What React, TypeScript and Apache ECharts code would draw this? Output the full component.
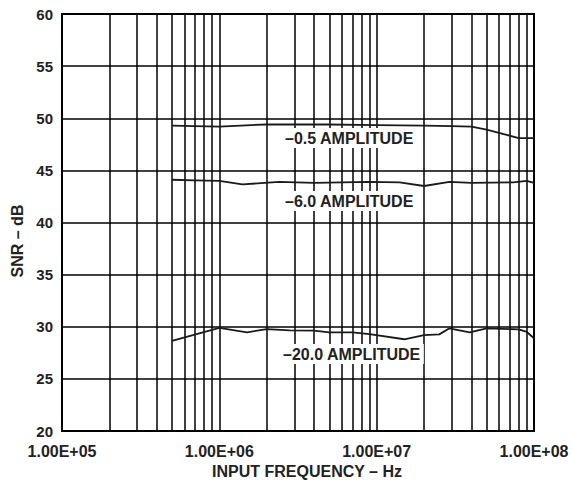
import React, { useEffect, useRef } from "react";
import * as echarts from "echarts";

// -0.5 amplitude
const freqA05 = [5e5, 7e5, 1e6, 1.6e6, 2e6, 3e6, 5e6, 1e7, 2e7, 3e7, 4e7, 5e7, 6.7e7, 8e7, 1e8];
const snrA05 = [49.3, 49.25, 49.2, 49.35, 49.4, 49.4, 49.4, 49.35, 49.3, 49.25, 49.2, 48.9, 48.4, 48.1, 48.1];

// -6.0 amplitude
const freqA6 = [5e5, 7e5, 1e6, 1.4e6, 2.4e6, 4e6, 9e6, 1.4e7, 2e7, 2.9e7, 4e7, 7.4e7, 9e7, 1e8];
const snrA6 = [44.1, 44.05, 44.0, 43.65, 43.9, 43.8, 43.9, 43.85, 43.5, 43.9, 43.8, 43.85, 44.0, 43.8];

// -20.0 amplitude
const freqA20 = [5e5, 1e6, 1.5e6, 2e6, 2.8e6, 4e6, 5e6, 7e6, 9e6, 1.5e7, 2e7, 2.5e7, 2.9e7, 3.9e7, 5e7, 8e7, 9e7, 1e8];
const snrA20 = [28.65, 29.9, 29.47, 29.78, 29.66, 29.62, 29.47, 29.47, 29.3, 28.8, 29.2, 29.27, 29.85, 29.47, 29.85, 29.75, 29.5, 28.9];

const seriesNames = ["–0.5 AMPLITUDE", "–6.0 AMPLITUDE", "–20.0 AMPLITUDE"];
const xTickLabels = ["1.00E+05", "1.00E+06", "1.00E+07", "1.00E+08"];
const minorGridFreqs = [
  2e5, 3e5, 4e5, 5e5, 6e5, 7e5, 8e5, 9e5,
  2e6, 3e6, 4e6, 5e6, 6e6, 7e6, 8e6, 9e6,
  2e7, 3e7, 4e7, 5e7, 6e7, 7e7, 8e7, 9e7,
];

const FONT = '"Liberation Sans", Arial, Helvetica, sans-serif';

export default function App() {
  const ref = useRef<HTMLDivElement>(null);

  useEffect(() => {
    document.body.style.margin = "0";
    if (!ref.current) return;
    const chart = echarts.init(ref.current, null, { renderer: "svg" });
    const pair = (xs: number[], ys: number[]) => xs.map((x, i) => [x, ys[i]]);
    const lineStyle = { color: "#1a1a1a", width: 1.8 };

    const labelStyle = (text: string, x: number, y: number) => ({
      type: "text",
      x,
      y,
      z: 100,
      style: {
        text,
        font: `bold 16px ${FONT}`,
        fill: "#222",
        backgroundColor: "#fff",
        padding: [2, 3, 2, 3],
        textAlign: "left",
        textVerticalAlign: "middle",
      },
    });

    chart.setOption({
      animation: false,
      backgroundColor: "#fff",
      grid: {
        left: 62,
        right: 38,
        top: 14,
        bottom: 52,
        show: true,
        borderColor: "#000",
        borderWidth: 2,
        backgroundColor: "transparent",
      },
      xAxis: {
        type: "log",
        logBase: 10,
        min: 1e5,
        max: 1e8,
        axisLine: { show: true, lineStyle: { color: "#000", width: 2 } },
        axisTick: { show: false },
        splitLine: { show: true, lineStyle: { color: "#000", width: 1.5 } },
        axisLabel: {
          margin: 12,
          fontFamily: FONT,
          fontWeight: "bold",
          fontSize: 16,
          color: "#222",
          formatter: (v: number) => xTickLabels[Math.round(Math.log10(v)) - 5] ?? "",
        },
      },
      yAxis: {
        type: "value",
        min: 20,
        max: 60,
        interval: 5,
        axisLine: { show: true, lineStyle: { color: "#000", width: 2 } },
        axisTick: { show: false },
        splitLine: { show: true, lineStyle: { color: "#000", width: 1.5 } },
        axisLabel: {
          margin: 9,
          fontFamily: FONT,
          fontWeight: "bold",
          fontSize: 15,
          color: "#222",
        },
      },
      graphic: [
        {
          type: "text",
          x: 17,
          y: 241,
          rotation: Math.PI / 2,
          style: {
            text: "SNR – dB",
            font: `bold 16px ${FONT}`,
            fill: "#222",
            textAlign: "center",
            textVerticalAlign: "middle",
          },
        },
        {
          type: "text",
          x: 307,
          y: 471,
          style: {
            text: "INPUT FREQUENCY – Hz",
            font: `bold 16px ${FONT}`,
            fill: "#222",
            textAlign: "center",
            textVerticalAlign: "middle",
          },
        },
        labelStyle(seriesNames[0], 282, 138),
        labelStyle(seriesNames[1], 282, 201),
        labelStyle(seriesNames[2], 280, 354),
      ],
      series: [
        {
          name: seriesNames[0],
          type: "line",
          data: pair(freqA05, snrA05),
          showSymbol: false,
          lineStyle,
          z: 5,
          markLine: {
            silent: true,
            symbol: ["none", "none"],
            label: { show: false },
            lineStyle: { color: "#000", width: 1.5, type: "solid" },
            data: minorGridFreqs.map((f) => ({ xAxis: f })),
          },
        },
        {
          name: seriesNames[1],
          type: "line",
          data: pair(freqA6, snrA6),
          showSymbol: false,
          lineStyle,
          z: 5,
        },
        {
          name: seriesNames[2],
          type: "line",
          data: pair(freqA20, snrA20),
          showSymbol: false,
          lineStyle,
          z: 5,
        },
      ],
    });
    return () => chart.dispose();
  }, []);

  return <div ref={ref} style={{ width: 572, height: 483 }} />;
}
